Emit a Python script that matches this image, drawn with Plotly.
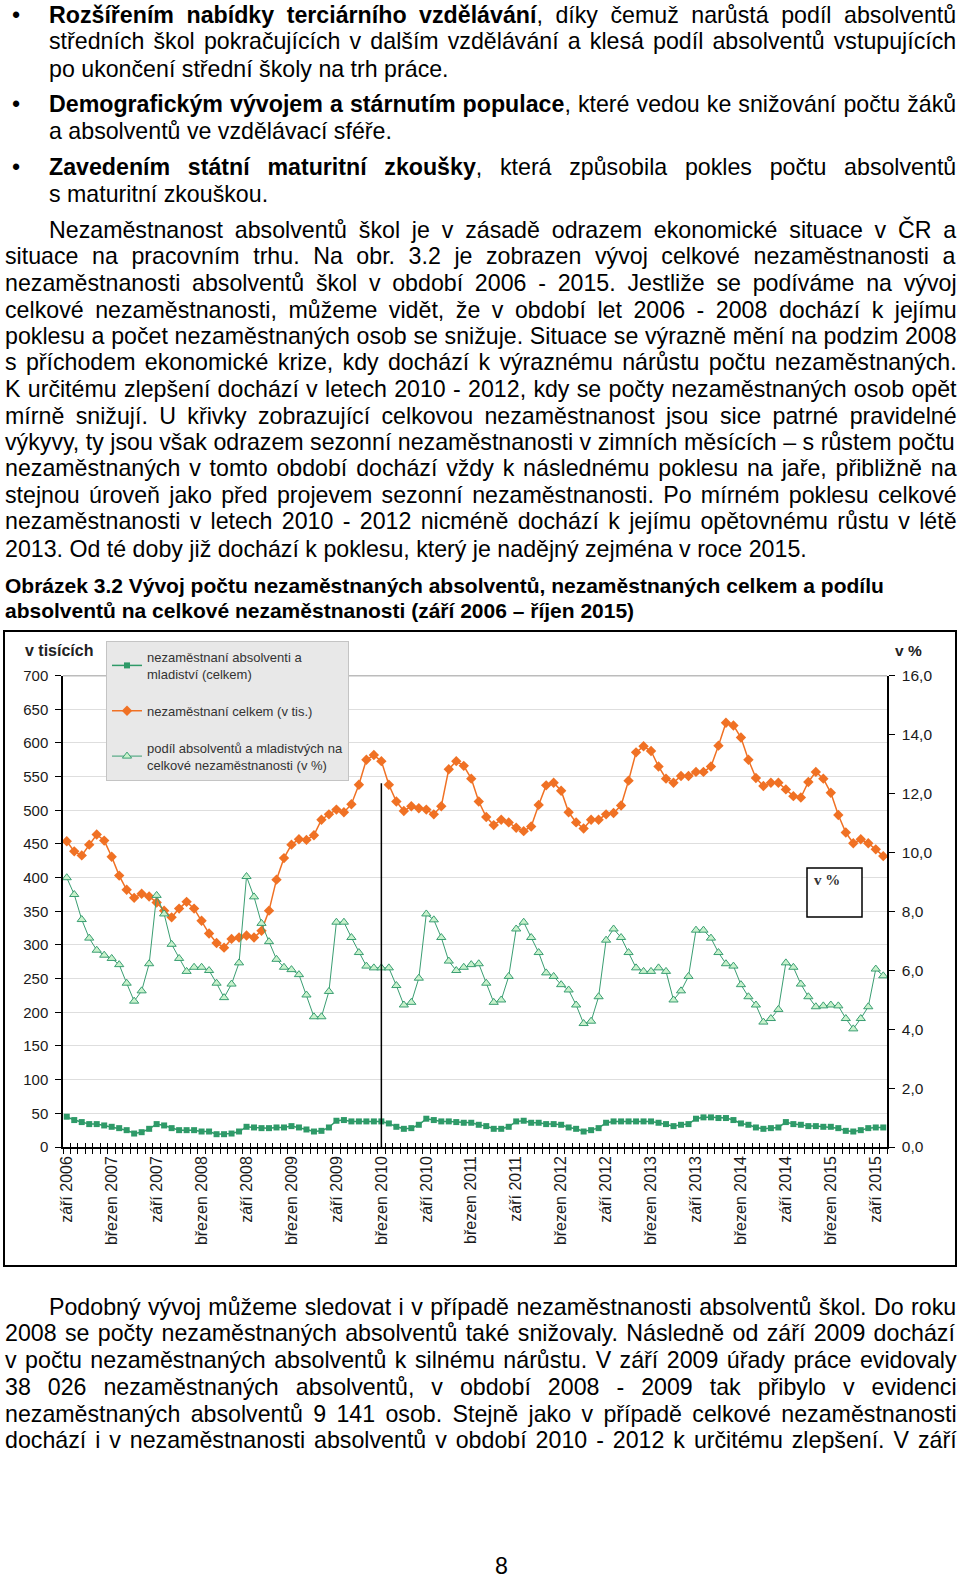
import unicodedata
import plotly.graph_objects as go

W, H = 960, 1581

# ---------------- data ----------------
tick_labels = ["září 2006", "březen 2007", "září 2007", "březen 2008", "září 2008",
               "březen 2009", "září 2009", "březen 2010", "září 2010", "březen 2011",
               "září 2011", "březen 2012", "září 2012", "březen 2013", "září 2013",
               "březen 2014", "září 2014", "březen 2015", "září 2015"]
tick_step = 6  # one label every 6 months

# unemployed total (thousands), Sep 2006 - Oct 2015
unemployed_total = [454, 439, 433, 449, 464, 455, 431, 403, 382, 370, 376, 372,
                    363, 351, 341, 354, 364, 354, 336, 317, 303, 296, 309, 311,
                    314, 311, 321, 351, 397, 429, 449, 457, 456, 463, 486, 494,
                    501, 497, 509, 538, 575, 582, 573, 538, 513, 499, 506, 503,
                    501, 494, 506, 561, 573, 566, 547, 513, 490, 478, 486, 482,
                    474, 469, 476, 508, 537, 541, 529, 497, 482, 473, 486, 486,
                    494, 496, 507, 544, 586, 595, 588, 565, 547, 541, 551, 551,
                    557, 557, 565, 596, 630, 626, 608, 575, 548, 536, 541, 541,
                    531, 521, 519, 542, 557, 547, 526, 493, 467, 451, 457, 451,
                    442, 432]

# unemployed graduates and juveniles (thousands)
graduates = [45, 40, 37, 34, 34, 32, 30, 28, 25, 20, 22, 27,
             34, 32, 28, 25, 25, 25, 23, 23, 19, 19, 20, 23,
             30, 29, 28, 28, 29, 29, 31, 29, 26, 23, 24, 29,
             39, 40, 38, 38, 38, 38, 38, 35, 30, 27, 28, 33,
             42, 40, 38, 38, 37, 36, 36, 33, 31, 27, 27, 30,
             38, 39, 36, 36, 34, 34, 33, 29, 27, 23, 25, 28,
             36, 38, 38, 38, 38, 38, 38, 36, 34, 31, 33, 34,
             42, 44, 44, 43, 43, 40, 35, 33, 29, 27, 28, 29,
             37, 34, 33, 31, 31, 30, 30, 28, 24, 23, 25, 28,
             29, 29]

# share of graduates on total unemployment (%)
share_pct = [9.14, 8.57, 7.72, 7.09, 6.68, 6.51, 6.40, 6.19, 5.56, 4.95, 5.30, 6.22,
             8.54, 7.91, 6.88, 6.40, 5.96, 6.10, 6.10, 5.99, 5.56, 5.07, 5.53, 6.25,
             9.18, 8.49, 7.59, 6.97, 6.37, 6.10, 6.02, 5.85, 5.16, 4.42, 4.42, 5.28,
             7.63, 7.63, 7.11, 6.60, 6.14, 6.08, 6.08, 6.08, 5.48, 4.82, 4.91, 5.73,
             7.91, 7.71, 7.11, 6.31, 5.99, 6.10, 6.19, 6.22, 5.56, 4.91, 4.99, 5.79,
             7.40, 7.63, 7.11, 6.60, 5.91, 5.79, 5.51, 5.33, 4.82, 4.19, 4.27, 5.10,
             7.02, 7.40, 7.11, 6.60, 6.08, 5.96, 5.96, 6.08, 5.96, 4.99, 5.30, 5.79,
             7.36, 7.36, 7.09, 6.60, 6.22, 6.14, 5.51, 5.10, 4.82, 4.24, 4.36, 4.67,
             6.25, 6.10, 5.53, 5.10, 4.76, 4.79, 4.82, 4.79, 4.36, 4.01, 4.36, 4.76,
             6.04, 5.81]

series_names = ["nezaměstnaní absolventi a<br>mladiství (celkem)",
                "nezaměstnaní celkem (v tis.)",
                "podíl absolventů a mladistvých na<br>celkové nezaměstnanosti (v %)"]

marker_label = "březen 2010"
marker_top_value = 540

# ---------------- text ----------------
BODY_FS = 23.2
RIGHT_EDGE = 956

top_lines = [
    # x, y, segments, justify, bullet
    (48.4, 15.1, [("Rozšířením nabídky terciárního vzdělávání", True), (", díky čemuž narůstá podíl absolventů", False)], True, True),
    (48.4, 41.3, [("středních škol pokračujících v dalším vzdělávání a klesá podíl absolventů vstupujících", False)], True, False),
    (48.4, 68.6, [("po ukončení střední školy na trh práce.", False)], False, False),
    (48.4, 103.9, [("Demografickým vývojem a stárnutím populace", True), (", které vedou ke snižování počtu žáků", False)], True, True),
    (48.4, 131.1, [("a absolventů ve vzdělávací sféře.", False)], False, False),
    (48.4, 167.4, [("Zavedením státní maturitní zkoušky", True), (", která způsobila pokles počtu absolventů", False)], True, True),
    (48.4, 193.6, [("s maturitní zkouškou.", False)], False, False),
    (48.4, 229.9, [("Nezaměstnanost absolventů škol je v zásadě odrazem ekonomické situace v ČR a", False)], True, False),
    (4, 256.1, [("situace na pracovním trhu. Na obr. 3.2 je zobrazen vývoj celkové nezaměstnanosti a", False)], True, False),
    (4, 283.4, [("nezaměstnanosti absolventů škol v období 2006 - 2015. Jestliže se podíváme na vývoj", False)], True, False),
    (4, 309.6, [("celkové nezaměstnanosti, můžeme vidět, že v období let 2006 - 2008 dochází k jejímu", False)], True, False),
    (4, 335.8, [("poklesu a počet nezaměstnaných osob se snižuje. Situace se výrazně mění na podzim 2008", False)], True, False),
    (4, 362.0, [("s příchodem ekonomické krize, kdy dochází k výraznému nárůstu počtu nezaměstnaných.", False)], True, False),
    (4, 389.2, [("K určitému zlepšení dochází v letech 2010 - 2012, kdy se počty nezaměstnaných osob opět", False)], True, False),
    (4, 415.5, [("mírně snižují. U křivky zobrazující celkovou nezaměstnanost jsou sice patrné pravidelné", False)], True, False),
    (4, 441.7, [("výkyvy, ty jsou však odrazem sezonní nezaměstnanosti v zimních měsících – s růstem počtu", False)], True, False),
    (4, 467.9, [("nezaměstnaných v tomto období dochází vždy k následnému poklesu na jaře, přibližně na", False)], True, False),
    (4, 495.1, [("stejnou úroveň jako před projevem sezonní nezaměstnanosti. Po mírném poklesu celkové", False)], True, False),
    (4, 521.3, [("nezaměstnanosti v letech 2010 - 2012 nicméně dochází k jejímu opětovnému růstu v létě", False)], True, False),
    (4, 548.6, [("2013. Od té doby již dochází k poklesu, který je nadějný zejména v roce 2015.", False)], False, False),
    (48.4, 1306.9, [("Podobný vývoj můžeme sledovat i v případě nezaměstnanosti absolventů škol. Do roku", False)], True, False),
    (4, 1333.1, [("2008 se počty nezaměstnaných absolventů také snižovaly. Následně od září 2009 dochází", False)], True, False),
    (4, 1360.3, [("v počtu nezaměstnaných absolventů k silnému nárůstu. V září 2009 úřady práce evidovaly", False)], True, False),
    (4, 1386.5, [("38 026 nezaměstnaných absolventů, v období 2008 - 2009 tak přibylo v evidenci", False)], True, False),
    (4, 1413.8, [("nezaměstnaných absolventů 9 141 osob. Stejně jako v případě celkové nezaměstnanosti", False)], True, False),
    (4, 1440.0, [("dochází i v nezaměstnanosti absolventů v období 2010 - 2012 k určitému zlepšení. V září", False)], True, False),
]

caption_lines = [
    (4, 585.9, "Obrázek 3.2 Vývoj počtu nezaměstnaných absolventů, nezaměstnaných celkem a podílu"),
    (4, 610.1, "absolventů na celkové nezaměstnanosti (září 2006 – říjen 2015)"),
]

# Arial metrics (1/1000 em) used to justify lines
_upper_r = dict(zip("ABCDEFGHIJKLMNOPQRSTUVWXYZ",
                    [667, 667, 722, 722, 667, 611, 778, 722, 278, 500, 667, 556, 833, 722, 778, 667, 778, 722, 667, 611, 722, 667, 944, 667, 667, 611]))
_lower_r = dict(zip("abcdefghijklmnopqrstuvwxyz",
                    [556, 556, 500, 556, 556, 278, 556, 556, 222, 222, 500, 222, 833, 556, 556, 556, 556, 333, 500, 278, 556, 500, 722, 500, 500, 500]))
_upper_b = dict(zip("ABCDEFGHIJKLMNOPQRSTUVWXYZ",
                    [722, 722, 722, 722, 667, 611, 778, 722, 278, 556, 722, 611, 833, 722, 778, 667, 778, 722, 667, 611, 722, 667, 944, 667, 667, 611]))
_lower_b = dict(zip("abcdefghijklmnopqrstuvwxyz",
                    [556, 611, 556, 611, 556, 333, 611, 611, 278, 278, 556, 278, 889, 611, 611, 611, 611, 389, 556, 333, 611, 556, 778, 556, 556, 500]))
_punct = {' ': 278, ',': 278, '.': 278, '-': 333, '–': 556, '(': 333, ')': 333, ':': 278, '%': 889}
REG = {**_upper_r, **_lower_r, **_punct, **{d: 556 for d in "0123456789"}}
BLD = {**_upper_b, **_lower_b, **_punct, **{d: 556 for d in "0123456789"}}


def em_width(text, bold):
    tbl = BLD if bold else REG
    w = 0
    for ch in text:
        if ch == 'í':
            w += 278
        elif ch in tbl:
            w += tbl[ch]
        else:
            base = unicodedata.normalize('NFD', ch)[0]
            w += tbl.get(base, 556)
    return w / 1000.0


def build_html(segs):
    out = ""
    for t, b in segs:
        out += f"<b>{t}</b>" if b else t
    return out


# ---------------- figure ----------------
ORANGE = "#F07124"
GREEN = "#2E9A68"
GREEN2 = "#3A9E72"
TRI_FILL = "#C8F2CC"

n = len(unemployed_total)
x_idx = list(range(n))
tick_pos = [i * tick_step for i in range(len(tick_labels))]
bounds = [i - 0.5 for i in range(n + 1)]
marker_x = tick_pos[tick_labels.index(marker_label)]

fig = go.Figure()
fig.add_trace(go.Scatter(x=x_idx, y=graduates, mode="lines+markers", name=series_names[0],
                         legendgroup="a", legendrank=1, line=dict(color=GREEN, width=1.5),
                         marker=dict(symbol="square", size=6, color=GREEN)))
fig.add_trace(go.Scatter(x=x_idx, y=share_pct, yaxis="y2", mode="lines+markers", name=series_names[2],
                         legendgroup="c", legendrank=3, line=dict(color=GREEN2, width=1),
                         marker=dict(symbol="triangle-up", size=8, color=TRI_FILL,
                                     line=dict(color=GREEN2, width=1))))
fig.add_trace(go.Scatter(x=x_idx, y=unemployed_total, mode="lines+markers", name=series_names[1],
                         legendgroup="b", legendrank=2, line=dict(color=ORANGE, width=1.5),
                         marker=dict(symbol="diamond", size=8, color=ORANGE)))
# helper trace for the inner half of the x ticks
fig.add_trace(go.Scatter(x=[0], y=[0], xaxis="x2", yaxis="y", mode="markers",
                         marker=dict(opacity=0), showlegend=False, hoverinfo="skip"))

plot_left, plot_right = 63, 887
plot_top, plot_bottom = 675.6, 1147

axis_font = dict(family="Liberation Sans, Arial, sans-serif", size=15, color="#1a1a1a")
xtick_font = dict(family="Liberation Sans, Arial, sans-serif", size=16, color="#1a1a1a")

fig.update_layout(
    width=W, height=H,
    margin=dict(l=0, r=0, t=0, b=0, pad=0, autoexpand=False),
    paper_bgcolor="white", plot_bgcolor="white",
    separators=", ",
    font=dict(family="Liberation Sans, Arial, sans-serif", color="#111"),
    legend=dict(x=106 / W, y=1 - 641 / H, xanchor="left", yanchor="top",
                bgcolor="#E8E8E8", bordercolor="#C4C4C4", borderwidth=1,
                font=dict(family="Liberation Sans, Arial, sans-serif", size=13, color="#333"),
                tracegroupgap=17, itemwidth=30, traceorder="grouped"),
    xaxis=dict(domain=[plot_left / W, plot_right / W], range=[-0.5, n - 0.5],
               tickmode="array", tickvals=tick_pos, ticktext=tick_labels,
               tickangle=-90, ticks="", showgrid=False, zeroline=False,
               showline=True, linecolor="black", linewidth=1.5, automargin=False,
               tickfont=xtick_font, ticklabelstandoff=1, anchor="y",
               minor=dict(tickmode="array", tickvals=bounds, ticks="outside",
                          ticklen=5, tickcolor="black", tickwidth=1, showgrid=False)),
    xaxis2=dict(overlaying="x", range=[-0.5, n - 0.5], anchor="y", automargin=False,
                tickmode="array", tickvals=bounds, ticks="inside", ticklen=4,
                tickcolor="black", tickwidth=1, showticklabels=False,
                showgrid=False, zeroline=False, showline=False),
    yaxis=dict(domain=[1 - plot_bottom / H, 1 - plot_top / H], range=[0, 700],
               tick0=0, dtick=50, ticks="outside", ticklen=6, tickcolor="black",
               showline=True, linecolor="black", linewidth=1.5, automargin=False,
               gridcolor="#DEDEDE", gridwidth=1, zeroline=False,
               tickfont=axis_font, ticklabelstandoff=4),
    yaxis2=dict(overlaying="y", side="right", anchor="x", range=[0, 16], automargin=False,
                tick0=0, dtick=2, tickformat=".1f", ticks="outside", ticklen=6,
                tickcolor="black", showline=True, linecolor="black", linewidth=1.5,
                showgrid=False, zeroline=False,
                tickfont=dict(family="Liberation Sans, Arial, sans-serif", size=15.5, color="#1a1a1a"),
                ticklabelstandoff=4),
)

shapes = [
    # chart frame
    dict(type="rect", xref="paper", yref="paper", x0=4 / W, x1=956 / W,
         y0=1 - 1266 / H, y1=1 - 631 / H, line=dict(color="black", width=2)),
    # darker top border of plot area
    dict(type="line", xref="paper", yref="y", x0=plot_left / W, x1=plot_right / W,
         y0=700, y1=700, line=dict(color="#7A7A7A", width=1.5)),
    # vertical marker line
    dict(type="line", xref="x", yref="y", x0=marker_x, x1=marker_x, y0=0,
         y1=marker_top_value, line=dict(color="black", width=1.5)),
    # "v %" box
    dict(type="rect", xref="paper", yref="paper", x0=807 / W, x1=862 / W,
         y0=1 - 917 / H, y1=1 - 868 / H, line=dict(color="black", width=1.5),
         fillcolor="white"),
]
fig.update_layout(shapes=shapes)

ann = []
ann.append(dict(text="<b>v tisících</b>", x=23 / W, y=1 - 650 / H, xref="paper", yref="paper",
                xanchor="left", yanchor="middle", showarrow=False,
                font=dict(family="Liberation Sans, Arial", size=16, color="#222")))
ann.append(dict(text="<b>v %</b>", x=893 / W, y=1 - 650 / H, xref="paper", yref="paper",
                xanchor="left", yanchor="middle", showarrow=False,
                font=dict(family="Liberation Sans, Arial", size=15.5, color="#222")))
ann.append(dict(text="<b>v %</b>", x=812 / W, y=1 - 880 / H, xref="paper", yref="paper",
                xanchor="left", yanchor="middle", showarrow=False,
                font=dict(family="Liberation Serif, Times New Roman, serif", size=15, color="#333")))

for (x0, yc, segs, justify, bullet) in top_lines:
    html = build_html(segs)
    if justify:
        full = "".join(t for t, _ in segs)
        nat = sum(em_width(t, b) for t, b in segs) * BODY_FS
        nsp = full.count(" ")
        ws = (RIGHT_EDGE - x0 - nat) / max(nsp, 1)
        html = f'<span style="word-spacing:{ws:.2f}px">{html}</span>'
    ann.append(dict(text=html, x=(x0 - 1) / W, y=1 - yc / H, xref="paper", yref="paper",
                    xanchor="left", yanchor="middle", showarrow=False, align="left",
                    font=dict(family="Liberation Sans, Arial", size=BODY_FS, color="#000")))
    if bullet:
        ann.append(dict(text="•", x=16 / W, y=1 - yc / H, xref="paper", yref="paper",
                        xanchor="center", yanchor="middle", showarrow=False,
                        font=dict(family="Liberation Sans, Arial", size=BODY_FS, color="#000")))

for (x0, yc, t) in caption_lines:
    ann.append(dict(text=f"<b>{t}</b>", x=(x0 - 1) / W, y=1 - yc / H, xref="paper", yref="paper",
                    xanchor="left", yanchor="middle", showarrow=False,
                    font=dict(family="Liberation Sans, Arial", size=21, color="#000")))

ann.append(dict(text="8", x=501 / W, y=1 - 1566 / H, xref="paper", yref="paper",
                xanchor="center", yanchor="middle", showarrow=False,
                font=dict(family="Liberation Sans, Arial", size=BODY_FS, color="#000")))

fig.update_layout(annotations=ann)

fig.write_html("out.html", config={"displayModeBar": False},
               post_script="document.body.style.margin='0';document.body.style.overflow='hidden';")
